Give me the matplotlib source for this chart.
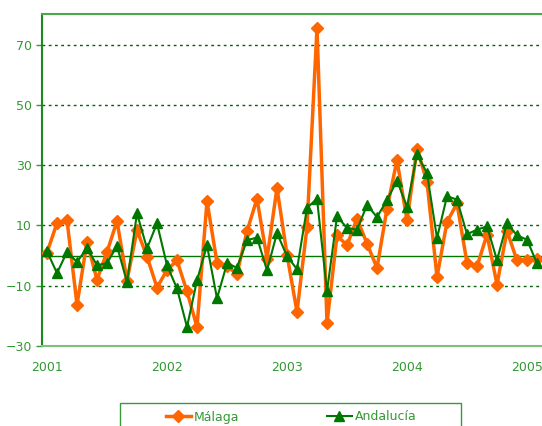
import matplotlib.pyplot as plt
from matplotlib.patches import Rectangle

# Datos mensuales desde enero 2001
malaga = [1, 10.8, 11.8, -16.3, 4.6, -8, 1.2, 11.5, -8.3, 8.4,
          -0.3, -10.6, -4.8, -1.6, -11.9, -23.7, 18.1, -2.3, -3.6, -6,
          8.1, 18.9, -1, 22.5, 0.3, -18.7, 9.5, 75.7, -22.4, 6.7,
          3.4, 12.3, 4, -4.1, 15.6, 31.7, 11.7, 35.5, 24.5, -7.1,
          11.2, 17.3, -2.4, -3.6, 7, -9.6, 8.2, -1.6, -1.3, -1]
andalucia = [1.4, -5.8, 1.2, -2.1, 2.5, -3.2, -2.5, 3.2, -8.8, 14,
             2.4, 10.7, -3.2, -10.9, -23.7, -8.2, 3.4, -14.2, -2.6, -4,
             5.1, 6, -4.9, 7.5, -0.2, -4.5, 15.8, 18.9, -11.9, 13,
             9.2, 8.6, 16.8, 12.8, 18.4, 24.9, 16.2, 33.7, 27.4, 5.8,
             19.7, 18.6, 7.1, 8.6, 9.7, -1.5, 10.8, 6.7, 5.3, -2.6]
anios = ['2001', '2002', '2003', '2004', '2005']
yticks = [-30, -10, 10, 30, 50, 70]

verde = '#007800'
verde_txt = '#339933'
naranja = '#ff6600'

fig = plt.figure(figsize=(5.42, 4.26), dpi=100)
ax = fig.add_axes([42 / 542, 80 / 426, 500 / 542, 332 / 426])

meses = list(range(len(malaga)))
ax.plot(meses, malaga, color=naranja, lw=2.5, marker='D', ms=5.8,
        mec=naranja, label='Málaga', zorder=3)
ax.plot(meses, andalucia, color=verde, lw=1.5, marker='^', ms=7.5,
        mec=verde, label='Andalucía', zorder=4)

ax.axhline(0, color=verde, lw=1, zorder=2)
for y in yticks[1:]:
    ax.axhline(y, color='#006400', lw=1, ls=(0, (2, 2.5)), zorder=1)

ax.set_xlim(-0.5, 49.5)
ax.set_ylim(-30, 80.2)
ax.set_yticks(yticks)
ax.set_xticks([0, 12, 24, 36, 48])
ax.set_xticklabels(anios)
ax.tick_params(axis='y', colors=verde_txt, labelsize=9, length=4, width=1)
ax.tick_params(axis='x', colors=verde_txt, labelsize=9, length=0, pad=11)
for lab in ax.get_yticklabels() + ax.get_xticklabels():
    lab.set_color(verde_txt)

ax.spines['right'].set_visible(False)
ax.spines['left'].set_color('#1a8a1a')
ax.spines['left'].set_linewidth(1.5)
ax.spines['top'].set_color('#4aa84a')
ax.spines['top'].set_linewidth(1.5)
ax.spines['bottom'].set_color('#7fc07f')
ax.spines['bottom'].set_linewidth(1.5)

# Caja de la leyenda (cortada por abajo)
fig.patches.append(Rectangle((120 / 542, -0.05), 341 / 542, 0.05 + 23 / 426,
                             transform=fig.transFigure, fill=False,
                             edgecolor='#3a9a3a', lw=1))
leg = fig.legend(loc='center', bbox_to_anchor=(291 / 542, 9 / 426), ncol=2,
                 frameon=False, fontsize=9, handlelength=2.0,
                 handletextpad=0.25, columnspacing=7.0)
for t in leg.get_texts():
    t.set_color(verde_txt)

fig.savefig('out.png', dpi=100)
